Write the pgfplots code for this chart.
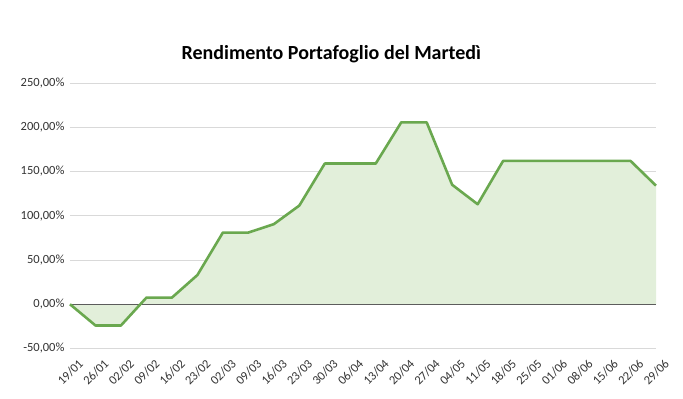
\documentclass[border=0pt]{standalone}
\usepackage{pgfplots}
\pgfplotsset{compat=1.18}
\usepackage{pgfplotstable}
\usepackage{fontspec}
\setmainfont{Carlito}
\definecolor{linegreen}{HTML}{6AA84F}
\definecolor{fillgreen}{HTML}{E2EFDA}
\definecolor{gridgray}{HTML}{D9D9D9}
\definecolor{ticktext}{HTML}{333333}

\pgfplotstableread{
x y
0 0
1 -24
2 -24
3 7.5
4 7.5
5 33
6 81
7 81
8 90.5
9 111.5
10 159
11 159
12 159
13 205.5
14 205.5
15 135
16 113
17 162
18 162
19 162
20 162
21 162
22 162
23 134
}\datatable

\begin{document}
\begin{tikzpicture}
\path[use as bounding box] (-70bp,-50.5bp) rectangle (613bp,348.5bp);
\begin{axis}[
  at={(0,0)}, anchor=south west,
  scale only axis,
  width=586bp, height=265.5bp,
  xmin=0, xmax=23, ymin=-50, ymax=250,
  axis line style={draw=none},
  major tick length=0pt,
  ytick={-50,0,50,100,150,200,250},
  ymajorgrids,
  grid style={gridgray, line width=0.8pt},
  yticklabel={\pgfmathprintnumber[fixed,fixed zerofill,precision=2,use comma]{\tick}\%},
  /pgf/number format/assume math mode=true,
  yticklabel style={font=\fontsize{12.5bp}{14bp}\selectfont, text=ticktext, xshift=-2bp},
  xtick={0,...,23},
  xticklabels={19/01,26/01,02/02,09/02,16/02,23/02,02/03,09/03,16/03,23/03,30/03,06/04,13/04,20/04,27/04,04/05,11/05,18/05,25/05,01/06,08/06,15/06,22/06,29/06},
  xticklabel style={font=\fontsize{12.5bp}{14bp}\selectfont, text=ticktext, rotate=45, anchor=north east, xshift=2bp, yshift=-9bp},
  title={\textbf{Rendimento Portafoglio del Martedì}},
  title style={at={(axis description cs:0.446,1.087)}, anchor=center, font=\fontsize{20bp}{22bp}\selectfont},
  clip=false,
]
\addplot[fill=fillgreen, draw=none] table[x=x,y=y] {\datatable} \closedcycle;
\draw[color=ticktext!80, line width=0.9pt] (axis cs:0,0) -- (axis cs:23,0);
\addplot[linegreen, line width=2.6pt, line join=round, mark=none] table[x=x,y=y] {\datatable};
\end{axis}
\end{tikzpicture}
\end{document}
